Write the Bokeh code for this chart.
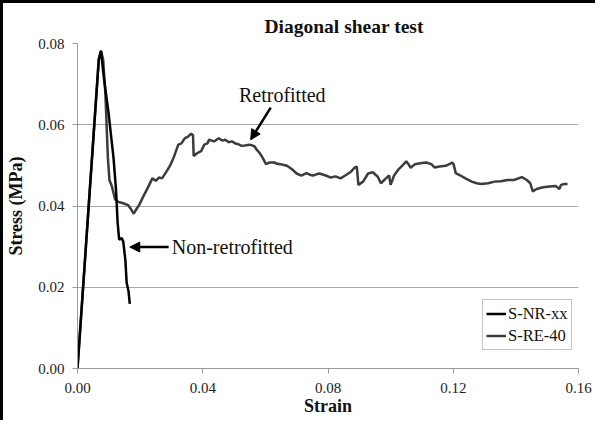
from bokeh.plotting import figure
from bokeh.layouts import column
from bokeh.models import (Range1d, FixedTicker, Legend, LegendItem, Arrow, NormalHead, Label,
                          PrintfTickFormatter)
from bokeh.embed import file_html
from bokeh.resources import INLINE

# S-NR-xx (non-retrofitted)
strain_nr = [0.0, 0.0068, 0.0075, 0.0084, 0.0099, 0.0115, 0.0123, 0.0128, 0.0133, 0.0141,
             0.0146, 0.0153, 0.0157, 0.0163, 0.0167]
stress_nr = [0.0, 0.0760, 0.0782, 0.0717, 0.0630, 0.0519, 0.0440, 0.0361, 0.0317, 0.0321,
             0.0313, 0.0266, 0.0211, 0.0190, 0.0159]

# S-RE-40 (retrofitted)
strain_re = [0.0, 0.0068, 0.0075, 0.0082, 0.0089, 0.0097, 0.0102, 0.0110, 0.0120, 0.0131,
             0.0141, 0.0152, 0.0162, 0.0171, 0.0179, 0.0188, 0.0198, 0.0211, 0.0224, 0.0239,
             0.0250, 0.0260, 0.0270, 0.0286, 0.0296, 0.0307, 0.0322, 0.0332, 0.0343, 0.0352,
             0.0363, 0.0369, 0.0371, 0.0384, 0.0395, 0.0405, 0.0415, 0.0420, 0.0436, 0.0451,
             0.0462, 0.0472, 0.0483, 0.0493, 0.0504, 0.0514, 0.0524, 0.0534, 0.0550, 0.0565,
             0.0573, 0.0581, 0.0591, 0.0602, 0.0612, 0.0628, 0.0638, 0.0648, 0.0659, 0.0669,
             0.0684, 0.0700, 0.0715, 0.0731, 0.0742, 0.0752, 0.0763, 0.0773, 0.0793, 0.0809,
             0.0824, 0.0840, 0.0855, 0.0871, 0.0886, 0.0892, 0.0897, 0.0912, 0.0928, 0.0943,
             0.0959, 0.0969, 0.0985, 0.0995, 0.1000, 0.1011, 0.1026, 0.1042, 0.1050, 0.1057,
             0.1064, 0.1078, 0.1094, 0.1114, 0.1130, 0.1140, 0.1156, 0.1176, 0.1197, 0.1201,
             0.1208, 0.1223, 0.1239, 0.1259, 0.1275, 0.1290, 0.1311, 0.1332, 0.1352, 0.1373,
             0.1394, 0.1419, 0.1435, 0.1446, 0.1454, 0.1466, 0.1487, 0.1508, 0.1528, 0.1539,
             0.1544, 0.1555, 0.1565]
stress_re = [0.0, 0.0762, 0.0782, 0.0760, 0.0677, 0.0519, 0.0464, 0.0448, 0.0416, 0.0410,
             0.0408, 0.0405, 0.0402, 0.0392, 0.0381, 0.0392, 0.0404, 0.0425, 0.0444, 0.0468,
             0.0462, 0.0470, 0.0468, 0.0487, 0.0500, 0.0519, 0.0551, 0.0554, 0.0567, 0.0570,
             0.0578, 0.0574, 0.0523, 0.0531, 0.0535, 0.0551, 0.0554, 0.0563, 0.0559, 0.0567,
             0.0561, 0.0563, 0.0557, 0.0559, 0.0554, 0.0552, 0.0548, 0.0549, 0.0551, 0.0547,
             0.0538, 0.0531, 0.0519, 0.0503, 0.0507, 0.0507, 0.0504, 0.0503, 0.0501, 0.0499,
             0.0491, 0.0480, 0.0475, 0.0481, 0.0477, 0.0475, 0.0478, 0.0480, 0.0475, 0.0470,
             0.0473, 0.0468, 0.0475, 0.0483, 0.0495, 0.0497, 0.0452, 0.0460, 0.0480, 0.0483,
             0.0472, 0.0456, 0.0468, 0.0475, 0.0452, 0.0475, 0.0491, 0.0503, 0.0510, 0.0503,
             0.0494, 0.0503, 0.0505, 0.0507, 0.0503, 0.0495, 0.0497, 0.0499, 0.0507, 0.0503,
             0.0481, 0.0475, 0.0468, 0.0460, 0.0456, 0.0454, 0.0456, 0.0460, 0.0461, 0.0464,
             0.0464, 0.0471, 0.0464, 0.0456, 0.0436, 0.0442, 0.0446, 0.0448, 0.0449, 0.0442,
             0.0452, 0.0454, 0.0454]

x_ticks = [0.0, 0.04, 0.08, 0.12, 0.16]
y_ticks = [0.0, 0.02, 0.04, 0.06, 0.08]

FONT = "Liberation Serif"

p = figure(width=592, height=417, output_backend="svg", toolbar_location=None,
           x_range=Range1d(0, 0.16), y_range=Range1d(0, 0.08),
           min_border_left=73, min_border_right=17, min_border_top=40, min_border_bottom=52)
p.border_fill_color = None

p.title.text = "Diagonal shear test"
p.title.text_font = FONT
p.title.text_font_size = "19.5px"
p.title.text_font_style = "bold"
p.title.text_color = "#111111"
p.title.align = "left"
p.title.offset = 187
p.title.standoff = 14

p.outline_line_color = None
p.xgrid.grid_line_color = None
p.ygrid.grid_line_color = "#a8a8a8"
p.ygrid.grid_line_width = 1

for ax in (p.xaxis[0], p.yaxis[0]):
    ax.axis_line_color = "#9a9a9a"
    ax.major_tick_line_color = "#9a9a9a"
    ax.major_tick_out = 5
    ax.major_tick_in = 0
    ax.minor_tick_line_color = None
    ax.major_label_text_font = FONT
    ax.major_label_text_font_size = "15px"
    ax.major_label_text_color = "#222222"
    ax.axis_label_text_font = FONT
    ax.axis_label_text_font_size = "18px"
    ax.axis_label_text_font_style = "bold"
    ax.axis_label_text_color = "#111111"
    ax.formatter = PrintfTickFormatter(format="%.2f")

p.xaxis.ticker = FixedTicker(ticks=x_ticks)
p.yaxis.ticker = FixedTicker(ticks=y_ticks)
p.xaxis.axis_label = "Strain"
p.yaxis.axis_label = "Stress (MPa)"
p.xaxis.major_label_standoff = 9
p.xaxis.axis_label_standoff = 0
p.yaxis.major_label_standoff = 8
p.yaxis.axis_label_standoff = 9

r_re = p.line(strain_re, stress_re, line_color="#3c3c3c", line_width=2.5)
r_nr = p.line(strain_nr, stress_nr, line_color="#000000", line_width=2.5)

legend = Legend(items=[LegendItem(label="S-NR-xx", renderers=[r_nr]),
                       LegendItem(label="S-RE-40", renderers=[r_re])],
                location=(405, 18))
legend.label_text_font = FONT
legend.label_text_font_size = "16.5px"
legend.label_text_color = "#111111"
legend.glyph_width = 20
legend.glyph_height = 21
legend.label_height = 21
legend.label_standoff = 2
legend.padding = 3
legend.spacing = 1
legend.margin = 0
legend.border_line_color = "#8c8c8c"
legend.border_line_width = 1
legend.background_fill_alpha = 1
p.add_layout(legend)

p.add_layout(Label(x=0.0654, y=0.0646, text="Retrofitted", text_font=FONT,
                   text_font_size="20px", text_align="center", text_baseline="bottom",
                   text_color="#111111"))
p.add_layout(Arrow(end=NormalHead(size=10, fill_color="black", line_color="black"),
                   x_start=0.0617, y_start=0.0642, x_end=0.0553, y_end=0.0563,
                   line_width=2.5, line_color="black"))

p.add_layout(Label(x=0.0301, y=0.0299, text="Non-retrofitted", text_font=FONT,
                   text_font_size="20px", text_align="left", text_baseline="middle",
                   text_color="#111111"))
p.add_layout(Arrow(end=NormalHead(size=10, fill_color="black", line_color="black"),
                   x_start=0.0291, y_start=0.0299, x_end=0.0167, y_end=0.0299,
                   line_width=2.5, line_color="black"))

page = column(p, styles={"border-left": "3px solid black", "border-top": "3px solid black",
                         "background-color": "white"})

open("out.html", "w").write(file_html(page, INLINE))
